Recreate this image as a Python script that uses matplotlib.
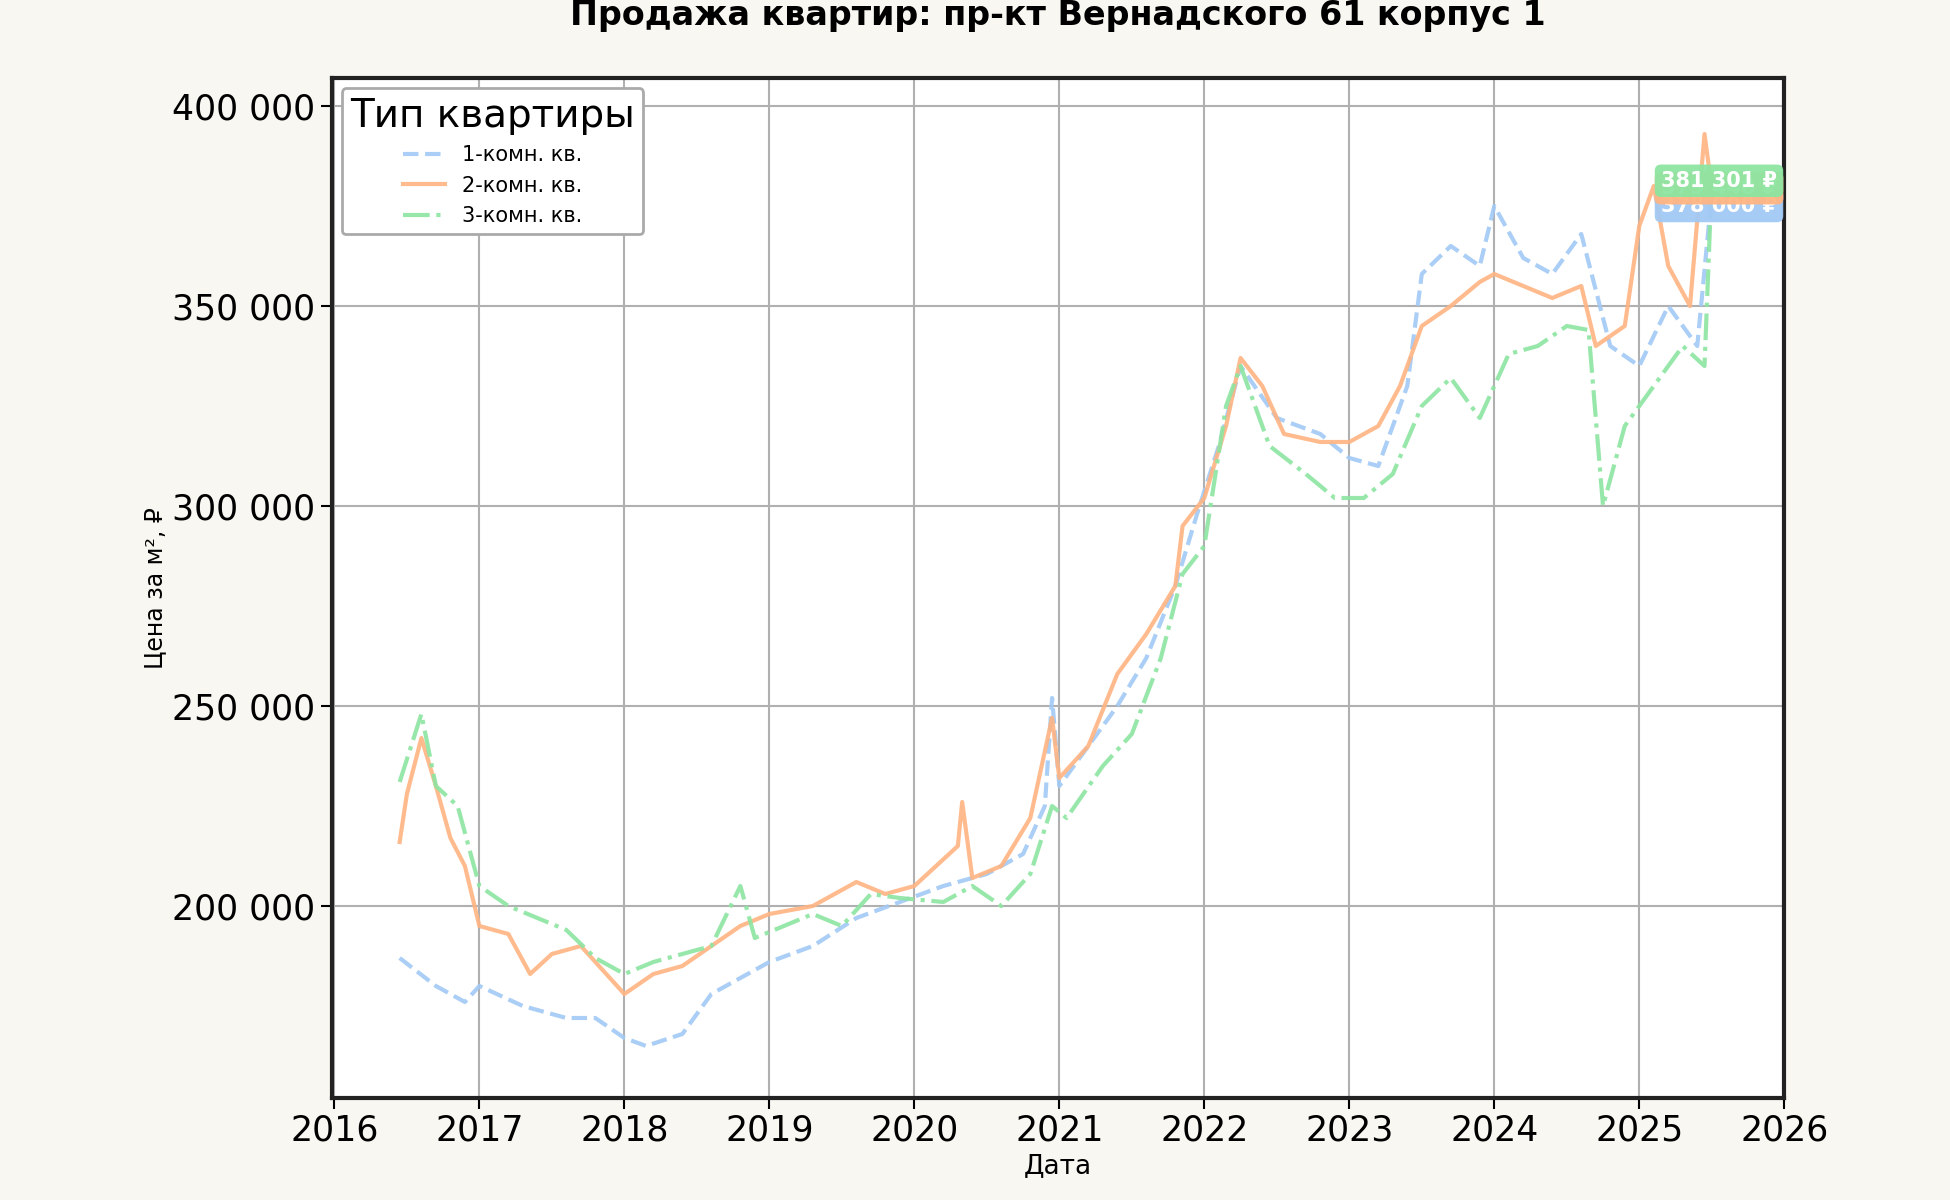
import matplotlib
matplotlib.use("Agg")
import matplotlib.pyplot as plt
import matplotlib.ticker as mt
import numpy as np

t1 = [2016.45,2016.7,2016.9,2017.0,2017.3,2017.6,2017.8,2018.0,2018.15,2018.4,2018.6,2018.8,2019.0,2019.3,2019.6,2019.9,2020.2,2020.5,2020.75,2020.9,2020.95,2021.0,2021.2,2021.4,2021.6,2021.8,2021.95,2022.1,2022.25,2022.5,2022.8,2023.0,2023.2,2023.4,2023.5,2023.7,2023.9,2024.0,2024.2,2024.4,2024.6,2024.8,2025.0,2025.2,2025.4,2025.5]
v1 = [187,180,176,180,175,172,172,167,165,168,178,182,186,190,197,201,205,208,213,225,252,230,240,250,262,280,298,315,335,322,318,312,310,330,358,365,360,375,362,358,368,340,335,350,340,378]
t2 = [2016.45,2016.5,2016.6,2016.7,2016.8,2016.9,2017.0,2017.2,2017.35,2017.5,2017.7,2017.85,2018.0,2018.2,2018.4,2018.6,2018.8,2019.0,2019.3,2019.6,2019.8,2020.0,2020.3,2020.33,2020.4,2020.6,2020.8,2020.95,2021.0,2021.2,2021.4,2021.6,2021.8,2021.85,2022.0,2022.15,2022.25,2022.4,2022.55,2022.8,2023.0,2023.2,2023.35,2023.5,2023.7,2023.9,2024.0,2024.2,2024.4,2024.6,2024.7,2024.9,2025.0,2025.1,2025.2,2025.35,2025.45,2025.5]
v2 = [216,228,242,230,217,210,195,193,183,188,190,184,178,183,185,190,195,198,200,206,203,205,215,226,207,210,222,247,232,240,258,268,280,295,302,320,337,330,318,316,316,320,330,345,350,356,358,355,352,355,340,345,370,380,360,350,393,379.44]
t3 = [2016.45,2016.6,2016.7,2016.85,2017.0,2017.2,2017.4,2017.6,2017.8,2018.0,2018.2,2018.4,2018.6,2018.8,2018.9,2019.1,2019.3,2019.5,2019.7,2019.9,2020.2,2020.4,2020.6,2020.8,2020.95,2021.05,2021.3,2021.5,2021.7,2021.85,2022.0,2022.15,2022.25,2022.45,2022.7,2022.9,2023.1,2023.3,2023.5,2023.7,2023.9,2024.1,2024.3,2024.5,2024.65,2024.75,2024.9,2025.1,2025.3,2025.45,2025.5]
v3 = [231,248,230,225,205,200,197,194,187,183,186,188,190,205,192,195,198,195,203,202,201,205,200,208,225,222,235,243,262,283,290,325,335,315,308,302,302,308,325,332,322,338,340,345,344,300,320,330,340,335,381.301]
labels = ["1-комн. кв.", "2-комн. кв.", "3-комн. кв."]
colors = ["#a1c9f4", "#ffb482", "#8de5a1"]
styles = ["--", "-", "-."]
end_labels = ["378 000 ₽", "379 440 ₽", "381 301 ₽"]
end_values = [375000, 379440, 381301]

plt.rcParams['font.family'] = ['DejaVu Sans']
fig = plt.figure(figsize=(19.5, 12), dpi=100, facecolor="#f8f7f2")
ax = fig.add_axes([0.17, 0.085, 0.745, 0.85])
ax.set_facecolor("white")
for t, v, lab, c, ls in zip([t1, t2, t3], [v1, v2, v3], labels, colors, styles):
    ax.plot(t, np.array(v) * 1000, ls, color=c, lw=3, alpha=0.9, label=lab)

for i, (txt, yy, c) in enumerate(zip(end_labels, end_values, colors)):
    ax.text(2025.15, yy, txt, color="white", fontsize=15, fontweight="bold", va="center", zorder=5 + i,
            bbox=dict(boxstyle="round,pad=0.3", fc=c, ec="none", alpha=0.95))

ax.set_xlim(2015.98, 2026)
ax.set_ylim(152000, 407000)
ax.set_xticks(range(2016, 2027))
ax.yaxis.set_major_locator(mt.MultipleLocator(50000))
ax.yaxis.set_major_formatter(mt.FuncFormatter(lambda x, p: f"{int(x):,}".replace(",", " ")))
ax.grid(True, color="#b0b0b0", lw=1.5)
ax.tick_params(labelsize=25, length=8, width=1.5)
for s in ax.spines.values():
    s.set_linewidth(3); s.set_color("#222222")
ax.set_xlabel("Дата", fontsize=19)
ax.set_ylabel("Цена за м², ₽", fontsize=17)
ax.set_title("Продажа квартир: пр-кт Вернадского 61 корпус 1", fontsize=24, fontweight="bold", pad=38)
leg = ax.legend(title="Тип квартиры", fontsize=15, title_fontsize=28, loc="upper left", framealpha=1, edgecolor="#aaaaaa")
leg.get_frame().set_linewidth(2)
fig.savefig("out.png", dpi=100, facecolor=fig.get_facecolor())
